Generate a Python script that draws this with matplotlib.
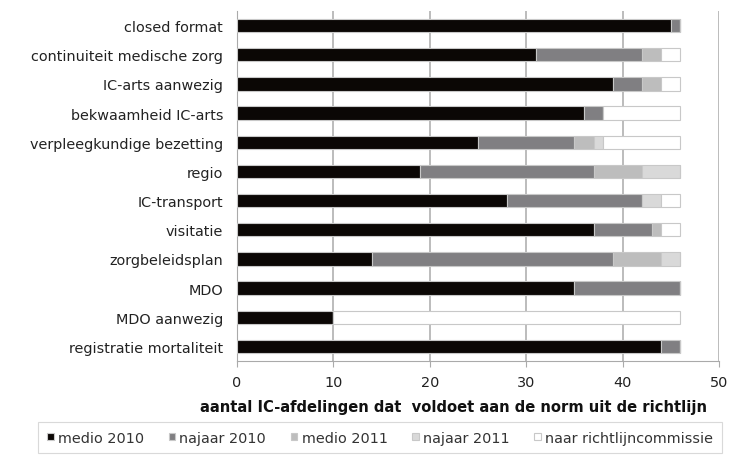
import numpy as np
import matplotlib
matplotlib.use("Agg")
import matplotlib.pyplot as plt

# categories, top to bottom as in the chart
categories = [
    "closed format",
    "continuiteit medische zorg",
    "IC-arts aanwezig",
    "bekwaamheid IC-arts",
    "verpleegkundige bezetting",
    "regio",
    "IC-transport",
    "visitatie",
    "zorgbeleidsplan",
    "MDO",
    "MDO aanwezig",
    "registratie mortaliteit",
]

medio_2010 = [45, 31, 39, 36, 25, 19, 28, 37, 14, 35, 10, 44]
najaar_2010 = [1, 11, 3, 2, 10, 18, 14, 6, 25, 11, 0, 2]
medio_2011 = [0, 2, 2, 0, 2, 5, 0, 1, 5, 0, 0, 0]
najaar_2011 = [0, 0, 0, 0, 1, 4, 2, 0, 2, 0, 0, 0]
naar_commissie = [0, 2, 2, 8, 8, 0, 2, 2, 0, 0, 36, 0]

series = [
    ("medio 2010", medio_2010, "#0b0705"),
    ("najaar 2010", najaar_2010, "#807f82"),
    ("medio 2011", medio_2011, "#bdbdbd"),
    ("najaar 2011", najaar_2011, "#d9d9d9"),
    ("naar richtlijncommissie", naar_commissie, "#ffffff"),
]

fig = plt.figure(figsize=(7.36, 4.6), dpi=100)
ax = fig.add_axes([237 / 736, 1 - 362 / 460, (719 - 237) / 736, 350 / 460])

y = np.arange(len(categories))
left = np.zeros(len(categories))
for name, vals, col in series:
    vals = np.array(vals, dtype=float)
    ax.barh(y, vals, left=left, height=0.46, color=col,
            edgecolor="#c8c8c8", linewidth=0.8, label=name, zorder=3)
    left += vals

ax.set_ylim(len(categories) - 0.5, -0.5)
ax.set_yticks(y)
ax.set_yticklabels(categories, fontsize=10.4, color="#222222")
ax.set_xlim(0, 50)
ax.set_xticks([0, 10, 20, 30, 40, 50])
ax.tick_params(axis="x", labelsize=10.4, colors="#222222", length=4,
               color="#aaaaaa", pad=6)
ax.tick_params(axis="y", length=0, pad=10)
ax.grid(axis="x", color="#b0b0b0", linewidth=1.2, zorder=0)

for s in ["top", "right"]:
    ax.spines[s].set_visible(False)
ax.spines["left"].set_color("#aaaaaa")
ax.spines["bottom"].set_color("#aaaaaa")

ax.set_xlabel("aantal IC-afdelingen dat  voldoet aan de norm uit de richtlijn",
              fontsize=10.6, fontweight="bold", labelpad=7, color="#111111")
ax.xaxis.label.set_x((453 - 237) / 482)

leg = fig.legend(loc="upper center", bbox_to_anchor=(380 / 736, 1 - 423 / 460),
                 ncol=5, fontsize=10.4, frameon=True, fancybox=False,
                 handlelength=0.45, handleheight=0.45, handletextpad=0.3,
                 columnspacing=1.7, borderpad=0.6, borderaxespad=0.0,
                 labelcolor="#333333")
leg.get_frame().set_edgecolor("#d0d0d0")
leg.get_frame().set_linewidth(0.8)

fig.savefig("out.png", dpi=100)
